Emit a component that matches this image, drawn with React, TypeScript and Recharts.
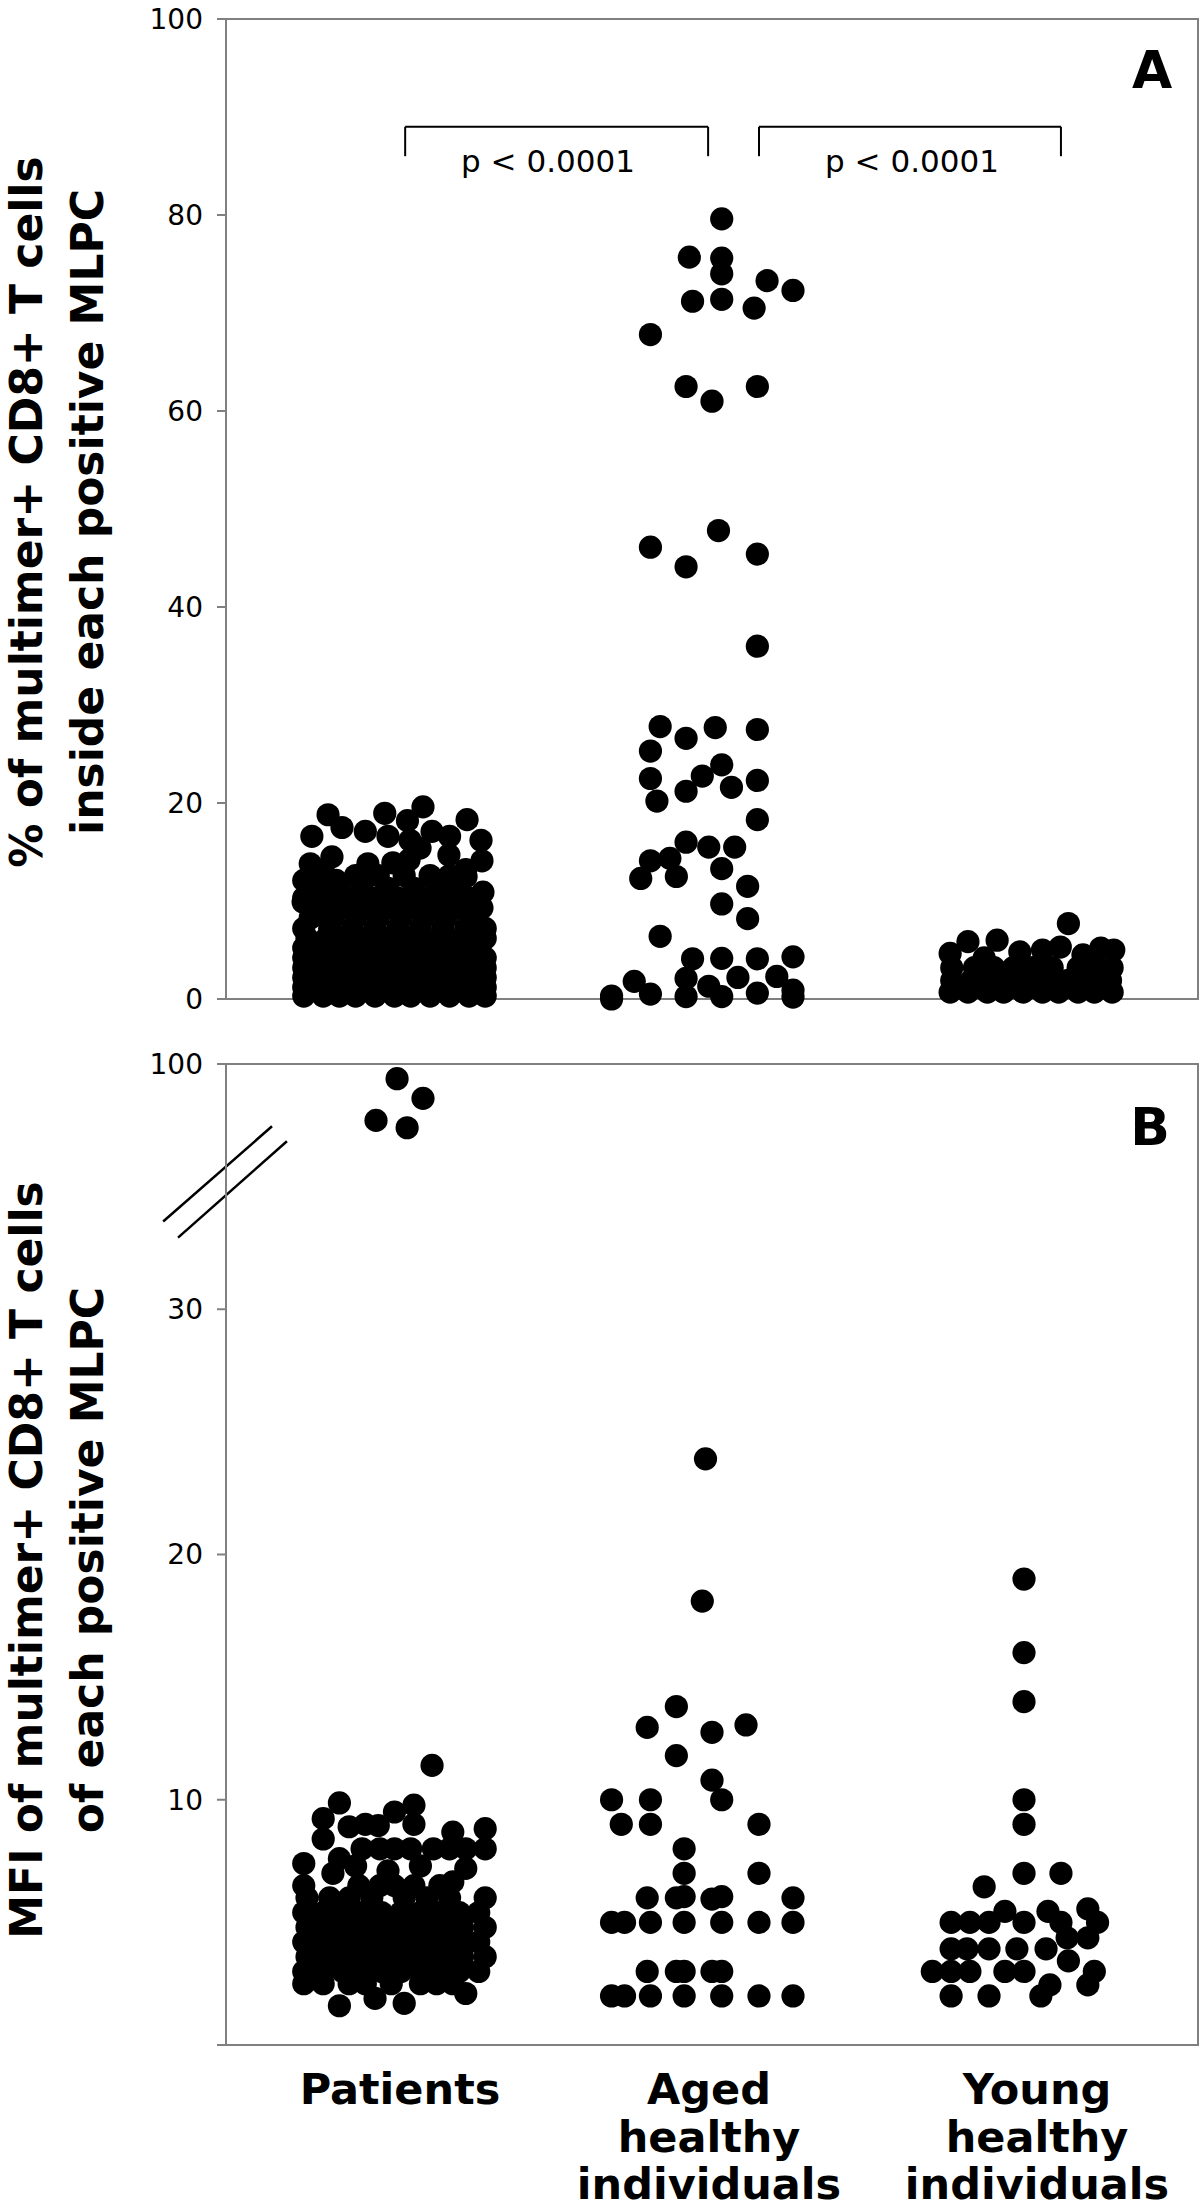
import React from 'react';
import { ReferenceArea, ReferenceLine, Scatter, ScatterChart, XAxis, YAxis } from 'recharts';

// group centres sit at 0.5, 1.5, 2.5 on the x axis; points carry a horizontal offset
const groupLines = [['Patients'], ['Aged', 'healthy', 'individuals'], ['Young', 'healthy', 'individuals']];
const groupCenters = [0.5, 1.5, 2.5];

const ticksA = [0, 20, 40, 60, 80, 100];
const ticksB = [0, 10, 20, 30, 100];

// axis break in panel B: above 30 the scale is squeezed 7x (30..100 -> 30..40)
const breakAt = 30;
const squeeze = 7;

// panel A: % of multimer+ CD8+ T cells — rows of points at one level, then loose points [offset, value]
const patientsARows = [
  { v: 0.3, xs: [-0.26, -0.2, -0.15, -0.1, -0.04, 0.02, 0.07, 0.13, 0.19, 0.25, 0.3] },
  { v: 1.2, xs: [-0.26, -0.21, -0.15, -0.09, -0.03, 0.03, 0.08, 0.14, 0.2, 0.25, 0.3] },
  { v: 2.2, xs: [-0.26, -0.2, -0.14, -0.1, -0.04, 0.02, 0.07, 0.13, 0.19, 0.24, 0.3] },
  { v: 3.2, xs: [-0.26, -0.21, -0.15, -0.09, -0.03, 0.03, 0.08, 0.14, 0.2, 0.25, 0.3] },
  { v: 4.2, xs: [-0.26, -0.2, -0.14, -0.1, -0.04, 0.02, 0.07, 0.13, 0.19, 0.24, 0.3] },
  { v: 5.2, xs: [-0.26, -0.21, -0.15, -0.09, -0.02, 0.04, 0.1, 0.15, 0.21, 0.27] },
  { v: 6.2, xs: [-0.25, -0.19, -0.13, -0.07, -0.01, 0.05, 0.11, 0.17, 0.23, 0.3] },
  { v: 7.2, xs: [-0.26, -0.18, -0.11, -0.04, 0.03, 0.1, 0.17, 0.24, 0.3] },
  { v: 8.3, xs: [-0.24, -0.17, -0.1, -0.03, 0.04, 0.11, 0.18, 0.25] },
  { v: 9.3, xs: [-0.21, -0.14, -0.07, 0.0, 0.07, 0.14, 0.21, 0.29] },
  { v: 10.3, xs: [-0.26, -0.18, -0.11, -0.04, 0.03, 0.1, 0.17, 0.25] },
  { v: 11.3, xs: [-0.22, -0.15, -0.08, 0.0, 0.08, 0.15, 0.22] },
  { v: 12.6, xs: [-0.1, -0.03, 0.05, 0.13, 0.19] },
  { v: 13.2, xs: [-0.2, 0.24] },
];
const patientsALoose = [
  [-0.185, 18.8], [-0.01, 18.95], [0.108, 19.6], [0.06, 18.2], [0.244, 18.3], [-0.142, 17.5],
  [-0.07, 17.1], [0.136, 17.1], [-0.235, 16.6], [0.0, 16.6], [0.068, 16.2], [0.19, 16.6],
  [0.287, 16.2], [-0.24, 13.8], [-0.062, 13.8], [0.015, 13.9], [0.065, 14.2], [0.188, 14.7],
  [0.29, 14.1], [-0.173, 14.5], [0.099, 15.4], [-0.26, 12.1], [-0.16, 12.1], [0.241, 12.5],
  [0.293, 10.9], [-0.262, 9.9], [-0.238, 8.3],
];
const agedA = [
  [0.03, 79.6], [-0.07, 75.7], [0.03, 75.6], [0.03, 74.0], [0.17, 73.3], [0.25, 72.3],
  [-0.06, 71.2], [0.03, 71.4], [0.13, 70.5], [-0.19, 67.8], [-0.08, 62.5], [0.0, 61.0],
  [0.14, 62.5], [-0.19, 46.1], [-0.08, 44.1], [0.02, 47.8], [0.14, 45.4], [0.14, 36.0],
  [-0.16, 27.8], [-0.08, 26.6], [0.01, 27.7], [0.14, 27.5], [-0.19, 25.3], [0.03, 23.9],
  [-0.03, 22.75], [-0.19, 22.5], [0.14, 22.3], [-0.08, 21.2], [0.06, 21.6], [-0.17, 20.2],
  [0.14, 18.3], [-0.08, 16.0], [-0.01, 15.5], [0.07, 15.5], [-0.19, 14.1], [-0.13, 14.35],
  [0.03, 13.3], [-0.22, 12.3], [-0.11, 12.5], [0.11, 11.5], [0.03, 9.7], [0.11, 8.2],
  [-0.16, 6.4], [-0.06, 4.1], [0.03, 4.15], [0.14, 4.1], [0.25, 4.3], [-0.24, 1.8],
  [-0.08, 2.1], [0.08, 2.2], [0.2, 2.3], [-0.31, 0.3], [-0.19, 0.5], [-0.08, 0.25],
  [-0.01, 1.3], [0.03, 0.25], [0.14, 0.6], [0.25, 0.9], [0.25, 0.2], [-0.31, 0.0],
];
const youngARows = [
  { v: 0.7, xs: [-0.265, -0.21, -0.15, -0.1, -0.04, 0.02, 0.07, 0.13, 0.18, 0.235] },
  { v: 1.9, xs: [-0.26, -0.2, -0.14, -0.08, -0.02, 0.04, 0.1, 0.16, 0.23] },
  { v: 3.2, xs: [-0.26, -0.19, -0.13, -0.07, -0.01, 0.05, 0.13, 0.19, 0.235] },
];
const youngALoose = [
  [-0.265, 4.65], [-0.21, 5.85], [-0.12, 6.0], [-0.05, 4.8], [0.02, 5.0], [0.075, 5.3],
  [0.145, 4.5], [0.2, 5.2], [0.24, 5.0], [0.1, 7.7], [-0.16, 4.2], [0.17, 3.9],
];

// panel B: MFI of multimer+ CD8+ T cells
const patientsBRows = [
  { v: 2.5, xs: [-0.26, -0.2, -0.12, -0.07, 0.01, 0.1, 0.15, 0.2] },
  { v: 3.0, xs: [-0.26, -0.2, -0.14, -0.08, -0.02, 0.04, 0.1, 0.16, 0.22, 0.28] },
  { v: 3.6, xs: [-0.25, -0.19, -0.13, -0.07, -0.01, 0.05, 0.11, 0.17, 0.23, 0.3] },
  { v: 4.2, xs: [-0.26, -0.2, -0.14, -0.08, -0.02, 0.04, 0.1, 0.16, 0.22, 0.28] },
  { v: 4.8, xs: [-0.25, -0.19, -0.13, -0.07, -0.01, 0.05, 0.11, 0.17, 0.23, 0.3] },
  { v: 5.4, xs: [-0.26, -0.2, -0.14, -0.08, -0.02, 0.04, 0.1, 0.16, 0.22, 0.28] },
  { v: 6.0, xs: [-0.25, -0.18, -0.12, -0.05, 0.05, 0.12, 0.19, 0.3] },
  { v: 6.5, xs: [-0.26, -0.09, -0.025, 0.02, 0.08, 0.16] },
  { v: 8.0, xs: [-0.08, -0.025, 0.02, 0.07, 0.14, 0.19, 0.24, 0.3] },
];
const patientsBLoose = [
  [0.136, 11.4], [-0.15, 9.87], [-0.2, 9.23], [0.08, 9.78], [0.02, 9.5], [0.08, 9.0],
  [0.3, 8.82], [0.2, 8.68], [-0.07, 9.0], [-0.03, 8.95], [-0.12, 8.9], [-0.2, 8.4],
  [-0.26, 7.4], [0.24, 7.2], [-0.17, 7.0], [0.2, 6.65], [-0.15, 7.6], [-0.1, 7.3],
  [0.0, 7.1], [0.1, 7.3], [-0.15, 1.6], [-0.04, 1.9], [0.05, 1.7], [0.24, 2.1],
  [0.028, 95.8], [0.108, 90.2], [-0.037, 83.9], [0.059, 81.8],
];
const agedB = [
  [-0.02, 23.9], [-0.03, 18.1], [-0.11, 13.8], [-0.2, 12.95], [0.0, 12.75], [0.105, 13.05],
  [-0.11, 11.8], [0.0, 10.8], [-0.31, 10], [-0.19, 10], [0.03, 10], [-0.28, 9], [-0.19, 9],
  [0.145, 9], [-0.086, 8], [-0.086, 7], [0.145, 7], [-0.2, 6], [-0.11, 6], [-0.086, 6.05],
  [0.0, 5.95], [0.03, 6.05], [0.25, 6],
  [-0.31, 5], [-0.27, 5], [-0.19, 5], [-0.086, 5], [0.03, 5], [0.145, 5], [0.25, 5],
  [-0.2, 3], [-0.11, 3], [-0.086, 3], [0.0, 3], [0.03, 3],
  [-0.31, 2], [-0.27, 2], [-0.19, 2], [-0.086, 2], [0.03, 2], [0.145, 2], [0.25, 2],
];
const youngB = [
  [-0.037, 19], [-0.037, 16], [-0.037, 14], [-0.037, 10], [-0.037, 9], [-0.037, 7], [0.077, 7],
  [-0.16, 6.45], [-0.096, 5.45], [0.037, 5.45], [0.16, 5.55],
  [-0.262, 5], [-0.204, 5], [-0.145, 5], [-0.037, 5], [0.077, 5], [0.19, 5],
  [0.096, 4.37], [0.16, 4.37],
  [-0.262, 3.92], [-0.213, 3.92], [-0.145, 3.92], [-0.059, 3.92], [0.031, 3.92],
  [0.1, 3.43],
  [-0.32, 3], [-0.262, 3], [-0.204, 3], [-0.096, 3], [-0.037, 3], [0.18, 3],
  [0.043, 2.45], [0.16, 2.45],
  [-0.262, 2], [-0.145, 2], [0.015, 2],
];

// significance brackets of panel A (x in axis units, y in %)
const brackets = [
  { from: 0.553, to: 1.488, top: 89, bottom: 86, text: 'p < 0.0001', textX: 548 },
  { from: 1.645, to: 2.577, top: 89, bottom: 86, text: 'p < 0.0001', textX: 912 },
];

const FONT = 'DejaVu Sans';
const GREY = '#808080';
const labelNudge = [12, -3, 1];

const breakY = (v: number) => (v > breakAt ? breakAt + (v - breakAt) / squeeze : v);

const fromRows = (rows: { v: number; xs: number[] }[]) =>
  rows.flatMap((r) => r.xs.map((o) => [o, r.v]));

const toPoints = (pairs: number[][], group: number, yMap = (v: number) => v) =>
  pairs.map(([o, v]) => ({ x: groupCenters[group] + o, y: yMap(v) }));

const dataA = [
  toPoints([...fromRows(patientsARows), ...patientsALoose], 0),
  toPoints(agedA, 1),
  toPoints([...fromRows(youngARows), ...youngALoose], 2),
];
const dataB = [
  toPoints([...fromRows(patientsBRows), ...patientsBLoose], 0, breakY),
  toPoints(agedB, 1, breakY),
  toPoints(youngB, 2, breakY),
];

const Dot = (props: any) => <circle cx={props.cx} cy={props.cy} r={11.6} fill='#000' />;

const GroupTick = (props: any) => {
  const { x, y, payload } = props;
  const idx = Math.floor(payload.value);
  const lines = groupLines[idx];
  const cx = x + labelNudge[idx];
  return (
    <text textAnchor='middle' fontFamily={FONT} fontWeight='bold' fontSize={43} fill='#000'>
      {lines.map((line, i) => (
        <tspan key={line} x={cx} y={y + 57 + i * 47.5}>{line}</tspan>
      ))}
    </text>
  );
};

const AxisTitle = ({ lines, cy }: { lines: string[]; cy: number }) => (
  <>
    {lines.map((line, i) => {
      const x = i === 0 ? 42 : 103;
      return (
        <text
          key={line}
          x={x}
          y={cy}
          transform={`rotate(-90, ${x}, ${cy})`}
          textAnchor='middle'
          fontFamily={FONT}
          fontWeight='bold'
          fontSize={44}
          fill='#000'
        >
          {line}
        </text>
      );
    })}
  </>
);

const yAxisStyle = {
  width: 60,
  tickSize: 9,
  tickMargin: 14,
  axisLine: { stroke: GREY, strokeWidth: 2 },
  tickLine: { stroke: GREY, strokeWidth: 2 },
  tick: { fontSize: 28, fill: '#000', fontFamily: FONT },
};

const PanelA = () => (
  <ScatterChart width={1200} height={1040} margin={{ top: 19, right: 2, bottom: 41, left: 166 }}>
    <XAxis type='number' dataKey='x' domain={[0, 3]} hide />
    <YAxis type='number' dataKey='y' domain={[0, 100]} ticks={ticksA} interval={0} {...yAxisStyle} />
    <ReferenceArea x1={0} x2={3} y1={0} y2={100} fill='none' stroke={GREY} strokeWidth={2} />
    {brackets.map((b) => (
      <React.Fragment key={b.from}>
        <ReferenceLine segment={[{ x: b.from, y: b.bottom }, { x: b.from, y: b.top }]} stroke='#000' strokeWidth={2} />
        <ReferenceLine segment={[{ x: b.from, y: b.top }, { x: b.to, y: b.top }]} stroke='#000' strokeWidth={2} />
        <ReferenceLine segment={[{ x: b.to, y: b.top }, { x: b.to, y: b.bottom }]} stroke='#000' strokeWidth={2} />
      </React.Fragment>
    ))}
    {dataA.map((d, i) => (
      <Scatter key={i} data={d} shape={Dot} isAnimationActive={false} />
    ))}
    {brackets.map((b) => (
      <text key={b.textX} x={b.textX} y={172} textAnchor='middle' fontFamily={FONT} fontSize={31} fill='#000'>
        {b.text}
      </text>
    ))}
    <text x={1152} y={88} textAnchor='middle' fontFamily={FONT} fontWeight='bold' fontSize={52} fill='#000'>A</text>
    <AxisTitle lines={['% of multimer+ CD8+ T cells', 'inside each positive MLPC']} cy={512} />
  </ScatterChart>
);

const PanelB = () => (
  <ScatterChart width={1200} height={1169} margin={{ top: 24, right: 2, bottom: 14, left: 166 }}>
    <XAxis
      type='number'
      dataKey='x'
      domain={[0, 3]}
      ticks={groupCenters}
      interval={0}
      axisLine={false}
      tickLine={false}
      tickSize={0}
      height={150}
      tick={GroupTick}
    />
    <YAxis
      type='number'
      dataKey='y'
      domain={[0, breakY(100)]}
      ticks={ticksB.map(breakY)}
      interval={0}
      tickFormatter={(t: number) => (t === 0 ? '' : t > breakAt ? String(breakAt + (t - breakAt) * squeeze) : String(t))}
      {...yAxisStyle}
    />
    <ReferenceArea x1={0} x2={3} y1={0} y2={breakY(100)} fill='none' stroke={GREY} strokeWidth={2} />
    <ReferenceLine segment={[{ x: -0.194, y: 33.58 }, { x: 0.142, y: 37.46 }]} stroke='#000' strokeWidth={2.5} ifOverflow='visible' />
    <ReferenceLine segment={[{ x: -0.148, y: 32.92 }, { x: 0.188, y: 36.85 }]} stroke='#000' strokeWidth={2.5} ifOverflow='visible' />
    {dataB.map((d, i) => (
      <Scatter key={i} data={d} shape={Dot} isAnimationActive={false} />
    ))}
    <text x={1150} y={105} textAnchor='middle' fontFamily={FONT} fontWeight='bold' fontSize={52} fill='#000'>B</text>
    <AxisTitle lines={['MFI of multimer+ CD8+ T cells', 'of each positive MLPC']} cy={520} />
  </ScatterChart>
);

export default function App() {
  return (
    <div style={{ position: 'absolute', left: 0, top: 0, width: 1200, height: 2209, background: '#fff', fontFamily: FONT }}>
      <div style={{ position: 'absolute', left: 0, top: 0 }}>
        <PanelA />
      </div>
      <div style={{ position: 'absolute', left: 0, top: 1040 }}>
        <PanelB />
      </div>
    </div>
  );
}
